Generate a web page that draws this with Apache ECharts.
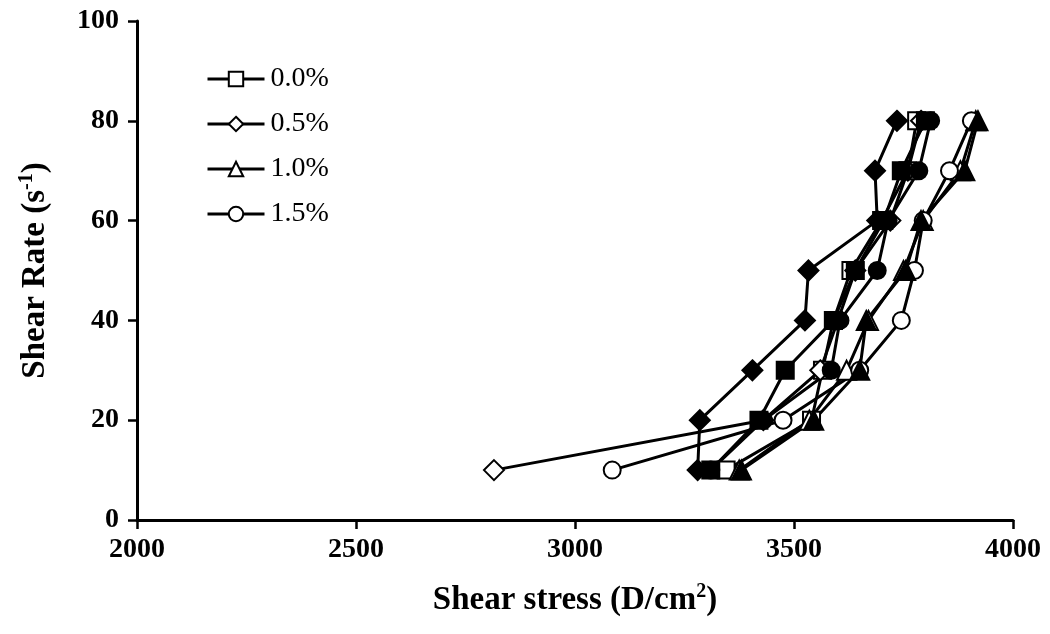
<!DOCTYPE html>
<html>
<head>
<meta charset="utf-8">
<script src="https://cdn.jsdelivr.net/npm/echarts@6/dist/echarts.min.js"></script>
<style>
  html, body { margin: 0; padding: 0; background: #fff; }
  #chart { width: 1050px; height: 634px; }
</style>
</head>
<body>
<div id="chart"></div>
<script>
// Shear rate steps (s^-1)
const shearRate = [10, 20, 30, 40, 50, 60, 70, 80];

// Shear stress (D/cm^2) for each concentration, two runs each
const open00   = [3345, 3540, 3565, 3590, 3630, 3700, 3760, 3780];
const open05   = [2815, 3430, 3560, 3600, 3640, 3720, 3760, 3790];
const open10   = [3375, 3535, 3620, 3670, 3750, 3795, 3880, 3915];
const open15   = [3085, 3475, 3650, 3745, 3775, 3795, 3855, 3905];
const filled00 = [3310, 3420, 3480, 3590, 3640, 3705, 3745, 3800];
const filled05 = [3280, 3285, 3405, 3525, 3533, 3690, 3685, 3735];
const filled10 = [3380, 3545, 3650, 3665, 3755, 3790, 3890, 3920];
const filled15 = [3310, 3430, 3585, 3605, 3690, 3715, 3785, 3812];

const legendNames = ['0.0%', '0.5%', '1.0%', '1.5%'];
const xTicks = { min: 2000, max: 4000, step: 500 };
const yTicks = { min: 0, max: 100, step: 20 };

const FONT = '"Liberation Serif", "Times New Roman", serif';

function pairs(xs) {
  return xs.map((x, i) => [x, shearRate[i]]);
}

function series(name, xs, symbol, size, filled) {
  return {
    name: name,
    type: 'line',
    data: pairs(xs),
    symbol: symbol,
    symbolSize: size,
    showAllSymbol: true,
    lineStyle: { color: '#000', width: 3 },
    itemStyle: {
      color: filled ? '#000' : '#fff',
      borderColor: '#000',
      borderWidth: 2
    },
    emphasis: { disabled: true },
    animation: false
  };
}

const richTitle = {
  a: { fontFamily: FONT, fontWeight: 'bold', fontSize: 33, color: '#000' },
  s: { fontFamily: FONT, fontWeight: 'bold', fontSize: 20, color: '#000', verticalAlign: 'top', padding: [0, 0, 16, 0] }
};

const chart = echarts.init(document.getElementById('chart'), null, { renderer: 'canvas' });

chart.setOption({
  backgroundColor: '#fff',
  animation: false,
  grid: { left: 137, right: 37, top: 21, bottom: 114 },
  legend: {
    data: legendNames,
    orient: 'vertical',
    left: 201,
    top: 60,
    itemWidth: 57,
    itemHeight: 18,
    itemGap: 17,
    lineStyle: { width: 3, color: '#000' },
    textStyle: { fontFamily: FONT, fontSize: 28, color: '#000', padding: [0, 0, 0, 1] },
    selectedMode: false
  },
  xAxis: {
    type: 'value',
    min: xTicks.min,
    max: xTicks.max,
    interval: xTicks.step,
    splitLine: { show: false },
    axisLine: { lineStyle: { color: '#000', width: 3 } },
    axisTick: { length: 9, lineStyle: { color: '#000', width: 2.5 } },
    axisLabel: {
      fontFamily: FONT, fontWeight: 'bold', fontSize: 28, color: '#000', margin: 16,
      formatter: v => String(v)
    },
    name: '{a|Shear stress (D/cm}{s|2}{a|)}',
    nameLocation: 'middle',
    nameGap: 62,
    nameTextStyle: { rich: richTitle }
  },
  yAxis: {
    type: 'value',
    min: yTicks.min,
    max: yTicks.max,
    interval: yTicks.step,
    splitLine: { show: false },
    axisLine: { lineStyle: { color: '#000', width: 3 } },
    axisTick: { length: 9, lineStyle: { color: '#000', width: 2.5 } },
    axisLabel: { fontFamily: FONT, fontWeight: 'bold', fontSize: 28, color: '#000', margin: 18 },
    name: '{a|Shear Rate (s}{s|-1}{a|)}',
    nameLocation: 'middle',
    nameGap: 84,
    nameRotate: 90,
    nameTextStyle: { rich: richTitle }
  },
  series: [
    series('0.0%', open00, 'rect', 17, false),
    series('0.5%', open05, 'diamond', 20, false),
    series('1.0%', open10, 'triangle', 19, false),
    series('1.5%', open15, 'circle', 17, false),
    series('0.0% run 2', filled00, 'rect', 17, true),
    series('0.5% run 2', filled05, 'diamond', 20, true),
    series('1.0% run 2', filled10, 'triangle', 19, true),
    series('1.5% run 2', filled15, 'circle', 17, true)
  ]
});
</script>
</body>
</html>
